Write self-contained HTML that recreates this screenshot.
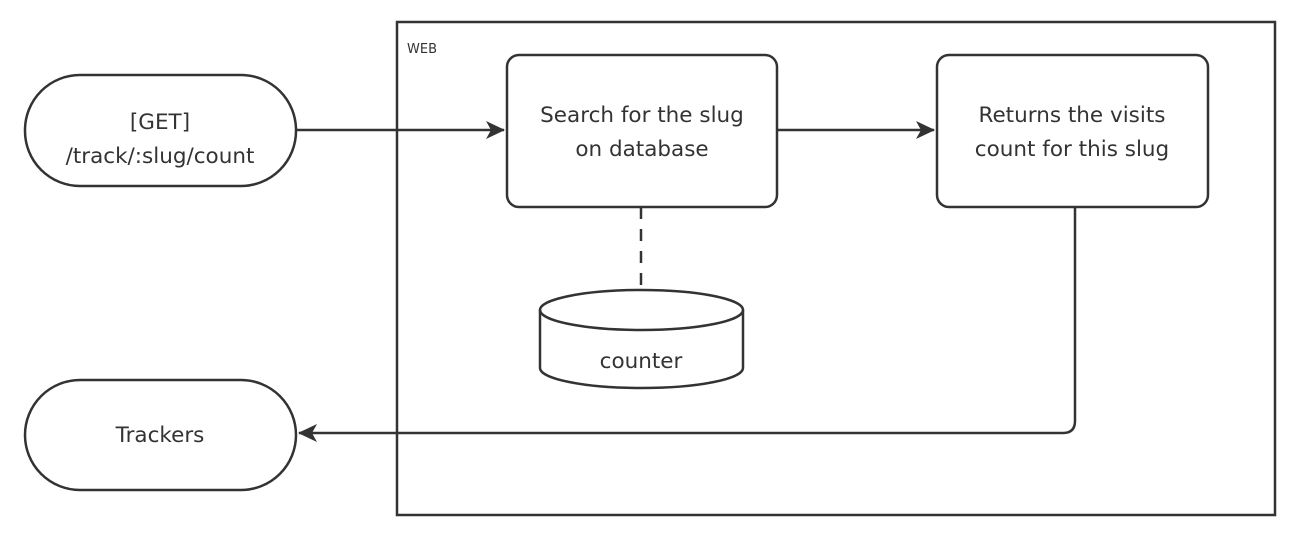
<!DOCTYPE html>
<html><head><style>body{margin:0;background:#fff}svg{display:block}text{font-family:"DejaVu Sans","Liberation Sans",sans-serif;font-size:21.5px;fill:#333}</style></head>
<body>
<svg width="1296" height="546" viewBox="0 0 1296 546">
<defs><marker id="a" markerWidth="20" markerHeight="20" refX="18" refY="10" orient="auto" markerUnits="userSpaceOnUse"><path d="M0,1 L19,10 L0,19 L5,10 z" fill="#333"/></marker></defs>
<g fill="none" stroke="#333" stroke-width="2.5">
<rect x="397" y="22" width="878" height="493"/>
<rect x="25" y="75" width="271" height="111" rx="55"/>
<rect x="25" y="380" width="271" height="110" rx="55"/>
<rect x="507" y="55" width="270" height="152" rx="12"/>
<rect x="937" y="55" width="271" height="152" rx="12"/>
<line x1="296" y1="130" x2="504" y2="130" marker-end="url(#a)"/>
<line x1="777" y1="130" x2="934" y2="130" marker-end="url(#a)"/>
<line x1="641" y1="207" x2="641" y2="290" stroke-dasharray="12,10"/>
<path d="M540,310 A101.5,20 0 0 1 743,310 L743,368 A101.5,20 0 0 1 540,368 Z"/>
<path d="M540,310 A101.5,20 0 0 0 743,310"/>
<path d="M1075,207 L1075,421 Q1075,433 1063,433 L299,433" marker-end="url(#a)"/>
</g>
<text x="407" y="53" style="font-size:13px">WEB</text>
<g text-anchor="middle">
<text x="160" y="129">[GET]</text>
<text x="160" y="163">/track/:slug/count</text>
<text x="160" y="442">Trackers</text>
<text x="642" y="122">Search for the slug</text>
<text x="642" y="156">on database</text>
<text x="1072" y="122">Returns the visits</text>
<text x="1072" y="156">count for this slug</text>
<text x="641" y="368">counter</text>
</g>
</svg>
</body></html>
